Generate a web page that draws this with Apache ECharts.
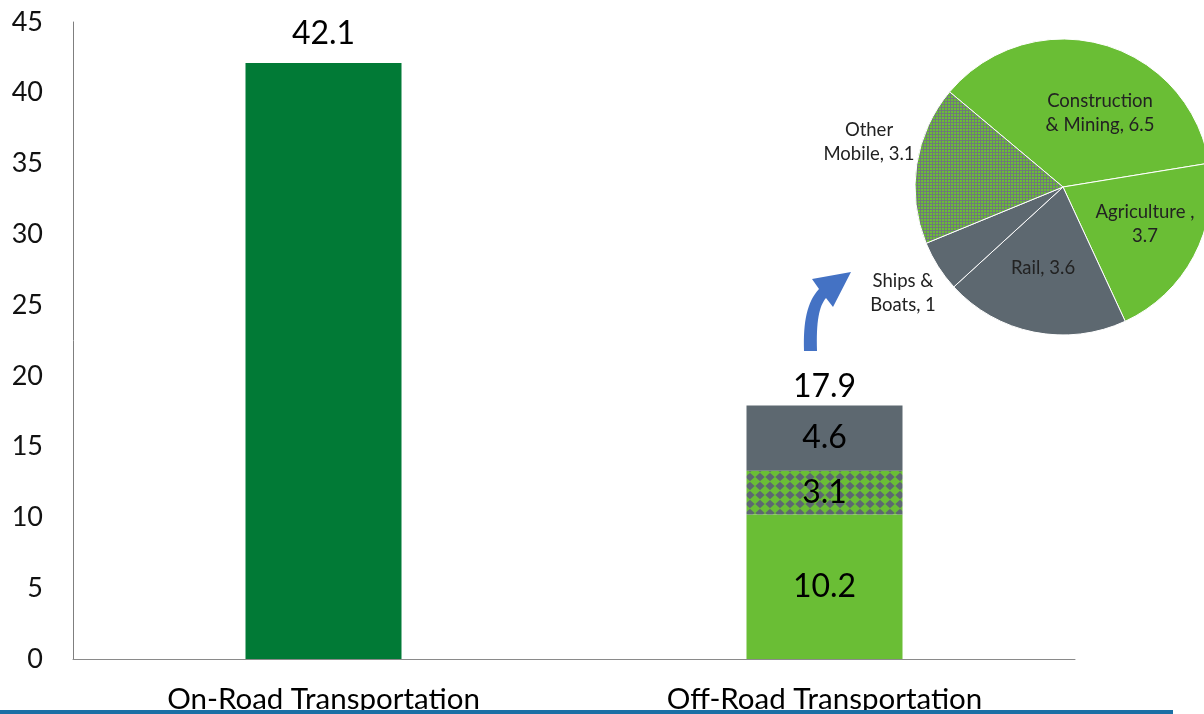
<!DOCTYPE html>
<html>
<head>
<meta charset="utf-8">
<style>
html,body{margin:0;padding:0;background:#fff;}
#chart{width:1204px;height:714px;}
</style>
<script src="https://cdn.jsdelivr.net/npm/echarts@6/dist/echarts.min.js"></script>
</head>
<body>
<div id="chart"></div>
<script>
// ---- data ----
const categories = ['On-Road Transportation', 'Off-Road Transportation'];
const onRoad = [42.1, null];
const offRoadConstructionAg = [null, 10.2];
const offRoadOtherMobile = [null, 3.1];
const offRoadRailShips = [null, 4.6];
const yTicks = [0, 5, 10, 15, 20, 25, 30, 35, 40, 45];
const pieNames = ['Construction\n& Mining', 'Agriculture', 'Rail', 'Ships &\nBoats', 'Other\nMobile'];
const pieValues = [6.5, 3.7, 3.6, 1, 3.1];

// ---- styles ----
const DARK_GREEN = '#017a36';
const LIGHT_GREEN = '#6abe35';
const GRAY = '#5d6870';
const FONT = 'Lato';

function diamondPattern() {
  const c = document.createElement('canvas');
  c.width = 10; c.height = 9;
  const g = c.getContext('2d');
  g.fillStyle = GRAY; g.fillRect(0, 0, 10, 9);
  g.fillStyle = LIGHT_GREEN;
  g.beginPath(); g.moveTo(5, -0.3); g.lineTo(10.3, 4.5); g.lineTo(5, 9.3); g.lineTo(-0.3, 4.5); g.closePath(); g.fill();
  return c;
}
function gridPattern() {
  const c = document.createElement('canvas');
  c.width = 3; c.height = 3;
  const g = c.getContext('2d');
  g.fillStyle = '#6f7a78'; g.fillRect(0, 0, 3, 3);
  g.fillStyle = LIGHT_GREEN; g.fillRect(0, 0, 2, 2);
  return c;
}
const diamondFill = { image: diamondPattern(), repeat: 'repeat' };
const gridFill = { image: gridPattern(), repeat: 'repeat' };

const pieColors = [LIGHT_GREEN, LIGHT_GREEN, GRAY, GRAY, gridFill];
const pieLabelPos = [[1100, 113], [1145, 224], [1043, 268], [903, 293], [869, 142]];

const offTotal = [offRoadConstructionAg, offRoadOtherMobile, offRoadRailShips]
  .reduce((s, arr) => s + (arr[1] || 0), 0);

// curved arrow outline (decoration)
function bez(p0, p1, p2, p3, n) {
  const pts = [];
  for (let i = 0; i <= n; i++) {
    const t = i / n, u = 1 - t;
    pts.push([
      u*u*u*p0[0] + 3*u*u*t*p1[0] + 3*u*t*t*p2[0] + t*t*t*p3[0],
      u*u*u*p0[1] + 3*u*u*t*p1[1] + 3*u*t*t*p2[1] + t*t*t*p3[1]
    ]);
  }
  return pts;
}
const arrowPts = [].concat(
  bez([804, 351], [803, 322], [807, 302], [819, 289], 16),
  [[812, 279], [851, 272], [833, 307], [826, 298]],
  bez([826, 298], [819, 306], [816, 322], [817, 351], 16)
);

const barLabel = { show: true, position: 'inside', fontFamily: FONT, fontSize: 32, color: '#000' };

const chart = echarts.init(document.getElementById('chart'), null, { renderer: 'canvas' });
chart.setOption({
  animation: false,
  backgroundColor: '#fff',
  grid: { left: 73, right: 129, top: 22, bottom: 55, containLabel: false },
  xAxis: {
    type: 'category',
    data: categories,
    axisLine: { lineStyle: { color: '#8a8a8a', width: 1 } },
    axisTick: { show: false },
    axisLabel: { fontFamily: FONT, fontSize: 29.5, color: '#000', margin: 25, interval: 0 }
  },
  yAxis: {
    type: 'value',
    min: 0, max: 45, interval: 5,
    axisLine: { show: true, lineStyle: { color: '#7f7f7f', width: 1 } },
    axisTick: { show: false },
    splitLine: { show: false },
    axisLabel: { fontFamily: FONT, fontSize: 27, color: '#111', margin: 30,
      formatter: v => yTicks.includes(v) ? String(v) : '' }
  },
  series: [
    { type: 'bar', stack: 'a', data: onRoad, barWidth: 156,
      itemStyle: { color: DARK_GREEN },
      label: { show: true, position: 'top', distance: 13, fontFamily: FONT, fontSize: 32, color: '#000' } },
    { type: 'bar', stack: 'a', data: offRoadConstructionAg, barWidth: 156,
      itemStyle: { color: LIGHT_GREEN }, label: barLabel },
    { type: 'bar', stack: 'a', data: offRoadOtherMobile, barWidth: 156,
      itemStyle: { color: diamondFill }, label: barLabel },
    { type: 'bar', stack: 'a', data: offRoadRailShips, barWidth: 156,
      itemStyle: { color: GRAY }, label: barLabel },
    { type: 'bar', stack: 'a', data: [null, 0], barWidth: 156,
      itemStyle: { color: 'transparent' },
      label: { show: true, position: 'top', distance: 3, fontFamily: FONT, fontSize: 32, color: '#000',
        formatter: () => offTotal.toFixed(1) } },
    { type: 'pie',
      center: [1063, 187], radius: 148,
      startAngle: 140, clockwise: true,
      avoidLabelOverlap: false,
      itemStyle: { borderColor: '#fff', borderWidth: 1 },
      label: { show: true, position: 'inside', fontFamily: FONT, fontSize: 18.5, color: '#222', lineHeight: 24,
        formatter: p => p.name === 'Agriculture' ? p.name + ' ,\n' + p.value : p.name + ', ' + p.value },
      labelLine: { show: false },
      labelLayout: p => ({ x: pieLabelPos[p.dataIndex][0], y: pieLabelPos[p.dataIndex][1], align: 'center', verticalAlign: 'middle' }),
      emphasis: { disabled: true },
      data: pieNames.map((n, i) => ({ name: n, value: pieValues[i], itemStyle: { color: pieColors[i] } }))
    }
  ],
  graphic: [
    { type: 'polygon', z: 100, shape: { points: arrowPts }, style: { fill: '#4472c4' } },
    { type: 'rect', z: 100, shape: { x: 0, y: 710, width: 1173, height: 4 }, style: { fill: '#1b6fa5' } }
  ]
});
</script>
</body>
</html>
